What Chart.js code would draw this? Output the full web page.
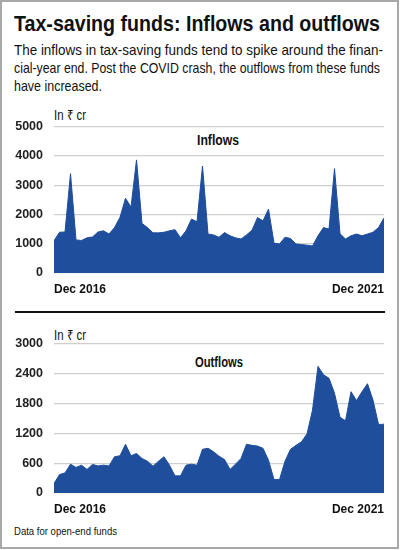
<!DOCTYPE html>
<html>
<head>
<meta charset="utf-8">
<script src="https://cdn.jsdelivr.net/npm/chart.js@4.4.1/dist/chart.umd.min.js"></script>
<style>
  html, body { margin: 0; padding: 0; background: #fff; }
  body { width: 400px; height: 550px; position: relative; overflow: hidden;
         font-family: "Liberation Sans", Arial, sans-serif; color: #111; }
  .frame { position: absolute; left: 0; top: 0; width: 399px; height: 549px; box-sizing: border-box;
           border: 2px solid #a8a8a8; }
  .abs { position: absolute; white-space: nowrap; display: inline-block; transform-origin: 0 0; }
  #title { left: 14px; top: 13.5px; font-size: 21.5px; line-height: 21.5px; font-weight: bold; }
  .sub { left: 14px; font-size: 15px; line-height: 15px; }
  .unit { font-size: 14px; line-height: 14px; }
  .lbl { font-size: 14px; line-height: 14px; font-weight: bold; }
  #sep { position: absolute; left: 15px; top: 311px; width: 370px; height: 2px; background: #111; }
  #foot { left: 14px; top: 525.5px; font-size: 10.5px; line-height: 10.5px; }
  canvas { position: absolute; left: 0; }
</style>
</head>
<body>
<div class="frame"></div>
<div id="title" class="abs fit" data-w="366">Tax-saving funds: Inflows and outflows</div>
<div class="abs sub fit" data-w="369" style="top:42.3px;">The inflows in tax-saving funds tend to spike around the finan-</div>
<div class="abs sub fit" data-w="366" style="top:60.3px;">cial-year end. Post the COVID crash, the outflows from these funds</div>
<div class="abs sub fit" data-w="88" style="top:78.3px;">have increased.</div>

<div class="abs unit fit" data-w="32" style="left:54px; top:107.5px;">In ₹ cr</div>
<div class="abs lbl fit" data-w="42" style="left:197px; top:133px;">Inflows</div>
<div id="sep"></div>
<div class="abs unit fit" data-w="32" style="left:54px; top:328px;">In ₹ cr</div>
<div class="abs lbl fit" data-w="48" style="left:195px; top:355px;">Outflows</div>
<div id="foot" class="abs fit" data-w="103">Data for open-end funds</div>

<canvas id="c1" width="400" height="195" style="top:108px; width:400px; height:195px;"></canvas>
<canvas id="c2" width="400" height="203" style="top:320px; width:400px; height:203px;"></canvas>

<script>
// condensed look: squeeze each text block horizontally to its measured width in the reference
document.querySelectorAll(".fit").forEach(function (el) {
  const target = parseFloat(el.dataset.w);
  const w = el.getBoundingClientRect().width;
  if (w > 0) el.style.transform = "scaleX(" + (target / w) + ")";
});

const months = [
  "Dec 2016",
  "Jan 2017","Feb 2017","Mar 2017","Apr 2017","May 2017","Jun 2017","Jul 2017","Aug 2017","Sep 2017","Oct 2017","Nov 2017","Dec 2017",
  "Jan 2018","Feb 2018","Mar 2018","Apr 2018","May 2018","Jun 2018","Jul 2018","Aug 2018","Sep 2018","Oct 2018","Nov 2018","Dec 2018",
  "Jan 2019","Feb 2019","Mar 2019","Apr 2019","May 2019","Jun 2019","Jul 2019","Aug 2019","Sep 2019","Oct 2019","Nov 2019","Dec 2019",
  "Jan 2020","Feb 2020","Mar 2020","Apr 2020","May 2020","Jun 2020","Jul 2020","Aug 2020","Sep 2020","Oct 2020","Nov 2020","Dec 2020",
  "Jan 2021","Feb 2021","Mar 2021","Apr 2021","May 2021","Jun 2021","Jul 2021","Aug 2021","Sep 2021","Oct 2021","Nov 2021","Dec 2021"
];
const shownLabels = ["Dec 2016", "Dec 2021"];

const inflows = [
  1100, 1390, 1400, 3390, 1130, 1110, 1200, 1230, 1400, 1440, 1330, 1550, 1900,
  2550, 2250, 3860, 1690, 1550, 1370, 1370, 1390, 1440, 1480, 1200, 1440, 1840,
  1750, 3650, 1330, 1300, 1220, 1380, 1270, 1200, 1160, 1300, 1460, 1890, 1780,
  2180, 1020, 990, 1220, 1180, 990, 970, 950, 920, 1270, 1550, 1500, 3560,
  1340, 1160, 1270, 1330, 1270, 1330, 1390, 1550, 1880
];
const outflows = [
  190, 370, 405, 580, 515, 560, 475, 575, 545, 560, 545, 730, 750,
  980, 750, 795, 695, 640, 540, 640, 730, 560, 345, 345, 560, 580,
  560, 880, 900, 830, 740, 675, 475, 580, 695, 980, 960, 945, 900,
  660, 270, 270, 640, 880, 960, 1030, 1190, 1670, 2550, 2380, 2310, 2010,
  1525, 1455, 2040, 1860, 2040, 2200, 1870, 1380, 1385
];

const inflowTicks = [0, 1000, 2000, 3000, 4000, 5000];
const outflowTicks = [0, 600, 1200, 1800, 2400, 3000];

const FILL = "#1f4e9d";
const labelFont = { family: "'Liberation Sans', Arial, sans-serif", size: 12, weight: "bold" };
const tickFont = { family: "'Liberation Sans', Arial, sans-serif", size: 12.5, weight: "bold" };

function makeChart(id, values, ticks, padTop) {
  const maxV = ticks[ticks.length - 1];
  return new Chart(document.getElementById(id), {
    type: "line",
    data: {
      labels: months,
      datasets: [{
        data: values,
        backgroundColor: FILL,
        borderColor: FILL,
        borderWidth: 1,
        fill: "origin",
        pointRadius: 0,
        tension: 0
      }]
    },
    options: {
      responsive: false,
      animation: false,
      devicePixelRatio: 1,
      layout: { padding: { top: padTop, right: 16, left: 0, bottom: 0 } },
      plugins: { legend: { display: false }, tooltip: { enabled: false }, title: { display: false } },
      scales: {
        x: {
          type: "category",
          offset: false,
          grid: { display: false, drawTicks: false },
          border: { display: false },
          ticks: {
            autoSkip: false,
            maxRotation: 0,
            minRotation: 0,
            align: "inner",
            padding: 9,
            color: "#111",
            font: labelFont,
            callback: function (v, i) {
              const l = months[i];
              return shownLabels.includes(l) ? l : "";
            }
          },
          afterFit: function (s) { s.height = 30; }
        },
        y: {
          min: 0,
          max: maxV,
          afterBuildTicks: function (s) { s.ticks = ticks.map(v => ({ value: v })); },
          grid: { color: "#cfcfcf", lineWidth: 1.2, drawTicks: false },
          border: { display: false },
          ticks: { padding: 11, color: "#222", font: tickFont, callback: v => String(v) },
          afterFit: function (s) { s.width = 54; }
        }
      }
    }
  });
}

makeChart("c1", inflows, inflowTicks, 17);
makeChart("c2", outflows, outflowTicks, 24);
</script>
</body>
</html>
